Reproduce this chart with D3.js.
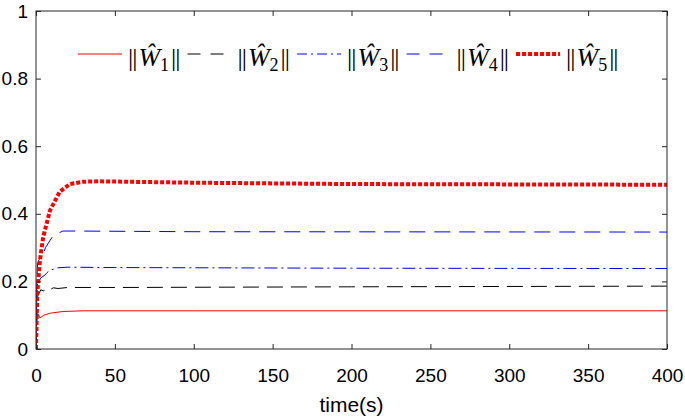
<!DOCTYPE html>
<html>
<head>
<meta charset="utf-8">
<script src="https://cdn.jsdelivr.net/npm/d3@7"></script>
<style>
  body { margin: 0; background: #fff; }
  text { font-family: "Liberation Sans", Arial, sans-serif; }
</style>
</head>
<body>
<div id="chart"></div>
<script>
// chart size
const width = 685, height = 420;
const margin = { top: 11, right: 18, bottom: 71, left: 36 };

// values
const t1 = [0, 0.5, 1.2, 2.5, 5, 9, 17, 30, 100, 400];
const w1 = [0, 0.08, 0.105, 0.092, 0.1, 0.106, 0.111, 0.113, 0.113, 0.113];
const t2 = [0, 0.6, 1, 2, 3, 5, 7, 9, 11, 14, 20, 50, 200, 400];
const w2 = [0, 0.12, 0.155, 0.165, 0.175, 0.172, 0.18, 0.176, 0.181, 0.179, 0.182, 0.182, 0.184, 0.186];
const t3 = [0, 0.5, 1, 3, 5.7, 7, 9, 11, 13, 20, 50, 200, 400];
const w3 = [0, 0.15, 0.195, 0.21, 0.219, 0.226, 0.234, 0.236, 0.24, 0.242, 0.241, 0.239, 0.238];
const t4 = [0, 0.5, 1, 2.5, 4.6, 6, 9, 11, 13, 17, 25, 100, 400];
const w4 = [0, 0.2, 0.254, 0.27, 0.28, 0.3, 0.322, 0.336, 0.34, 0.349, 0.349, 0.347, 0.346];
const t5 = [0, 0.8, 2.5, 4.6, 8.9, 15, 21.5, 30, 40, 100, 200, 400];
const w5 = [0, 0.165, 0.263, 0.332, 0.41, 0.465, 0.488, 0.495, 0.496, 0.492, 0.488, 0.486];

const seriesNames = ['1', '2', '3', '4', '5'];
const xTicks = [0, 50, 100, 150, 200, 250, 300, 350, 400];
const yTicks = [0, 0.2, 0.4, 0.6, 0.8, 1];

const series = [
    { name: seriesNames[0], t: t1, v: w1, color: '#ff0000', dash: null, w: 1, legDash: null },
    { name: seriesNames[1], t: t2, v: w2, color: '#000000', dash: '16,8', w: 1, legDash: '13,10' },
    { name: seriesNames[2], t: t3, v: w3, color: '#0000ff', dash: '13,4,2,4', w: 1, legDash: '10,4,2,4' },
    { name: seriesNames[3], t: t4, v: w4, color: '#0000ff', dash: '16,9', w: 1, legDash: '13,10' },
    { name: seriesNames[4], t: t5, v: w5, color: '#ff0000', dash: '4,2', w: 4, legDash: '4,2' }
];

const innerW = width - margin.left - margin.right;
const innerH = height - margin.top - margin.bottom;

const svg = d3.select('#chart').append('svg')
    .attr('width', width)
    .attr('height', height);

const g = svg.append('g')
    .attr('transform', `translate(${margin.left}, ${margin.top})`);

const x = d3.scaleLinear().domain([0, 400]).range([0, innerW]);
const y = d3.scaleLinear().domain([0, 1]).range([innerH, 0]);

svg.append('clipPath').attr('id', 'clip')
    .append('rect').attr('width', innerW).attr('height', innerH);

// lines
const line = d3.line().x((d) => x(d[0])).y((d) => y(d[1]));
const plot = g.append('g').attr('clip-path', 'url(#clip)');
series.forEach((s) => {
    plot.append('path')
        .datum(s.t.map((tt, i) => [tt, s.v[i]]))
        .attr('d', line)
        .attr('fill', 'none')
        .attr('stroke', s.color)
        .attr('stroke-width', s.w)
        .attr('stroke-dasharray', s.dash);
});

// axes: ticks inside on all four sides
const axisColor = '#262626';
const ax = (sel) => sel.select('.domain').remove();
g.append('g').attr('transform', `translate(0, ${innerH})`)
    .call(d3.axisBottom(x).tickValues(xTicks).tickSize(-5).tickPadding(20).tickFormat(d3.format('d')))
    .call(ax);
g.append('g')
    .call(d3.axisTop(x).tickValues(xTicks).tickSize(-5).tickFormat(''))
    .call(ax);
g.append('g')
    .call(d3.axisLeft(y).tickValues(yTicks).tickSize(-5).tickPadding(8).tickFormat((d) => (d === 0 || d === 1 ? d : d.toFixed(1))))
    .call(ax);
g.append('g').attr('transform', `translate(${innerW}, 0)`)
    .call(d3.axisRight(y).tickValues(yTicks).tickSize(-5).tickFormat(''))
    .call(ax);

g.selectAll('.tick line').attr('stroke', axisColor);
g.selectAll('.tick text')
    .attr('fill', '#000')
    .style('font-size', '19px')
    .style('font-family', '"Liberation Sans", Arial, sans-serif');

g.append('rect')
    .attr('width', innerW)
    .attr('height', innerH)
    .attr('fill', 'none')
    .attr('stroke', axisColor)
    .attr('stroke-width', 1);

svg.append('text')
    .attr('x', margin.left + innerW / 2)
    .attr('y', 412)
    .attr('text-anchor', 'middle')
    .style('font-size', '21px')
    .text('time(s)');

// legend
const legend = svg.append('g').attr('transform', 'translate(78, 54)');
let lx = 0;
series.forEach((s) => {
    legend.append('line')
        .attr('x1', lx).attr('x2', lx + 44)
        .attr('y1', 0).attr('y2', 0)
        .attr('stroke', s.color)
        .attr('stroke-width', s.w)
        .attr('stroke-dasharray', s.legDash);
    const txt = legend.append('text')
        .attr('x', lx + 50)
        .attr('y', 12)
        .attr('fill', '#000')
        .style('font-family', '"Liberation Serif", "Times New Roman", serif')
        .style('font-size', '26px');
    txt.append('tspan').style('letter-spacing', '-1px').text('||');
    txt.append('tspan').attr('dx', 2).style('font-style', 'italic').text('\u0174');
    txt.append('tspan').attr('dy', 5).style('font-size', '18px').text(s.name);
    txt.append('tspan').attr('dy', -5).attr('dx', 2).style('letter-spacing', '-1px').text('||');
    lx += 50 + txt.node().getComputedTextLength() + 12;
});
</script>
</body>
</html>
